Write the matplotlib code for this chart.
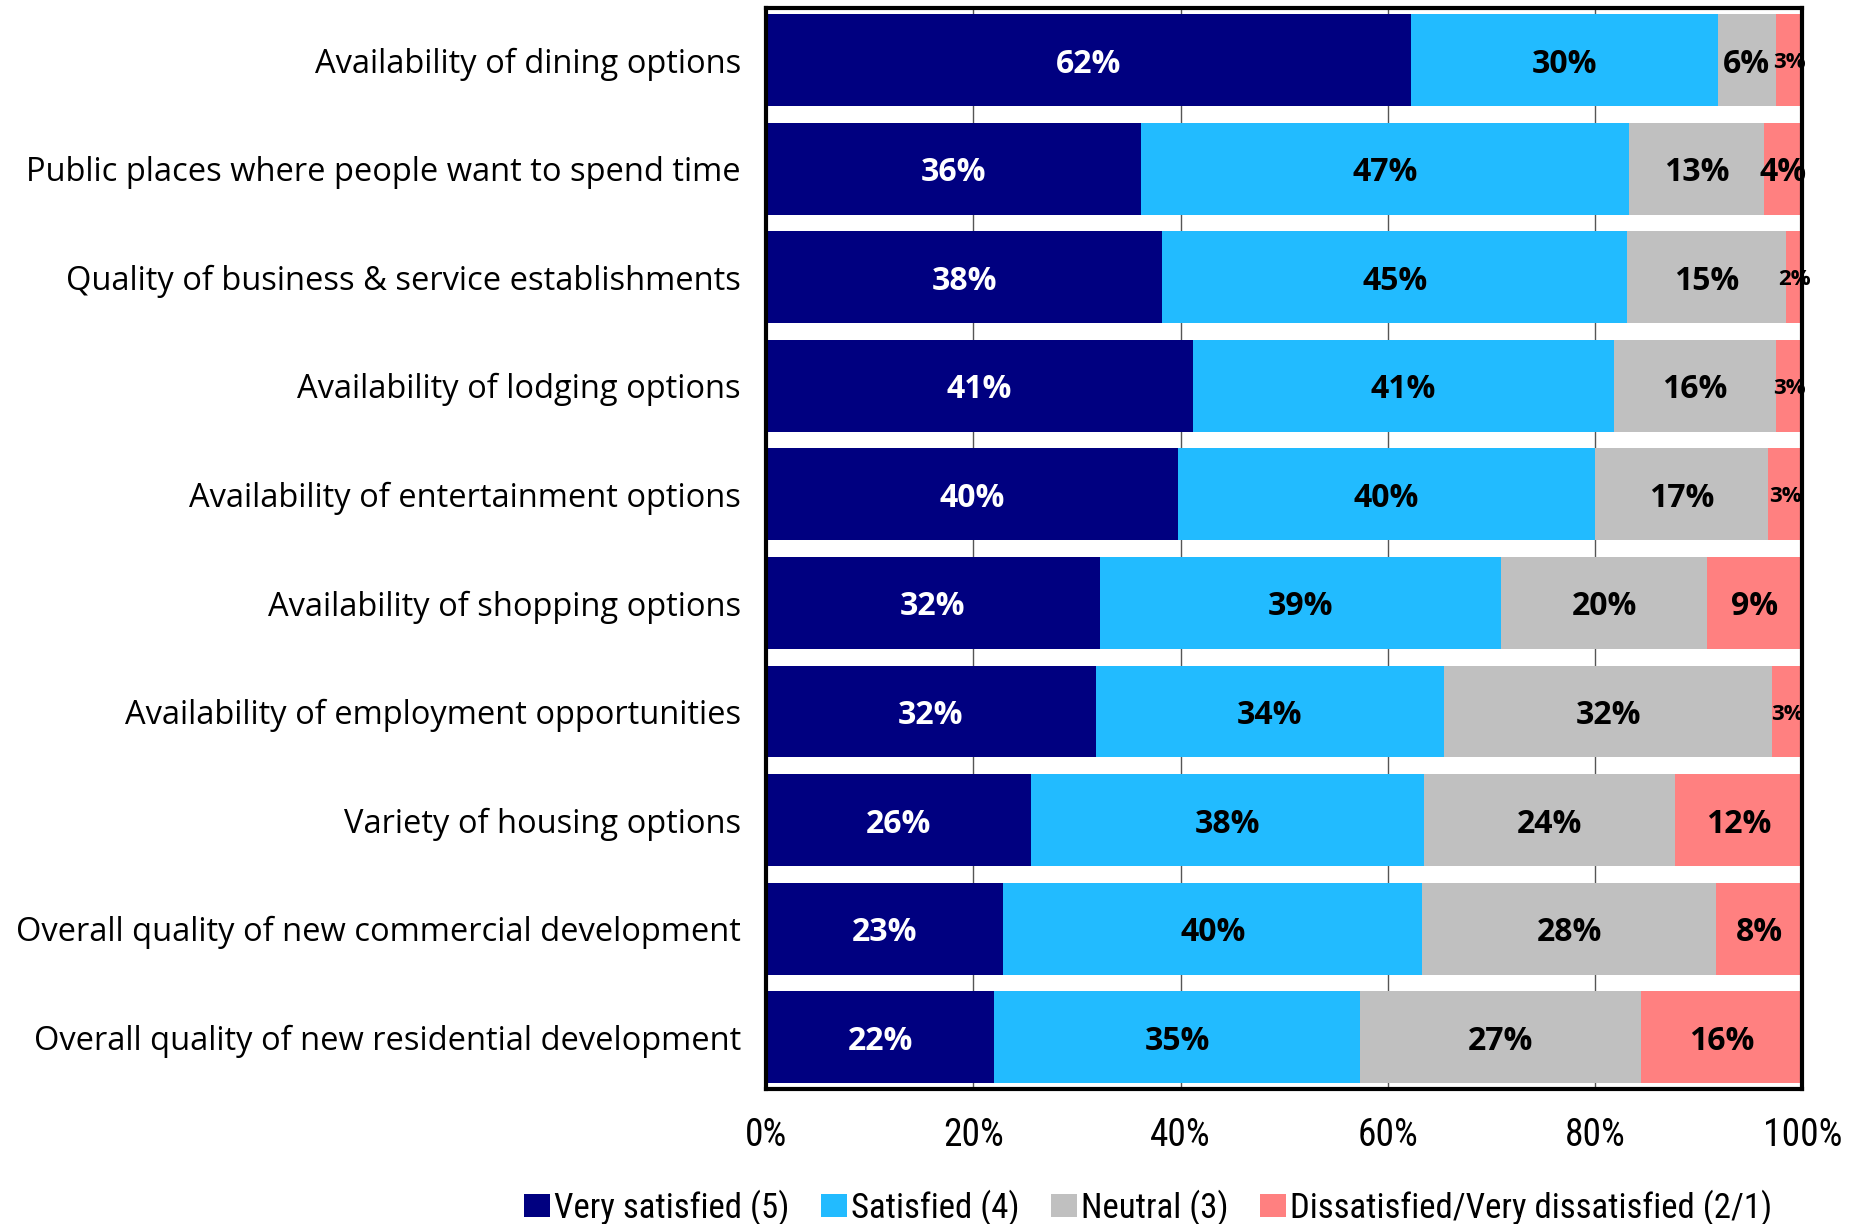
import matplotlib.pyplot as plt
import matplotlib.font_manager as fm
import numpy as np

# 폰트 선택: 없으면 다음 후보로
def pick_font(candidates):
    available = {f.name for f in fm.fontManager.ttflist}
    for name in candidates:
        if name in available:
            return name
    return 'DejaVu Sans'

LABEL_FONT = pick_font(['Open Sans', 'Noto Sans', 'DejaVu Sans'])
TICK_FONT = pick_font(['Liberation Sans Narrow', 'Roboto Condensed', 'Open Sans'])
plt.rcParams['font.family'] = LABEL_FONT

# === 데이터 (%) ===
items = [
    "Availability of dining options",
    "Public places where people want to spend time",
    "Quality of business & service establishments",
    "Availability of lodging options",
    "Availability of entertainment options",
    "Availability of shopping options",
    "Availability of employment opportunities",
    "Variety of housing options",
    "Overall quality of new commercial development",
    "Overall quality of new residential development",
]
very_satisfied = [62.2, 36.2, 38.2, 41.2, 39.7, 32.2, 31.8, 25.6, 22.9, 22.0]
satisfied      = [29.6, 47.1, 44.9, 40.6, 40.3, 38.7, 33.6, 37.9, 40.4, 35.3]
neutral        = [5.6, 13.0, 15.3, 15.6, 16.7, 19.9, 31.7, 24.2, 28.4, 27.1]
dissatisfied   = [2.6, 3.7, 1.6, 2.6, 3.3, 9.2, 2.9, 12.3, 8.3, 15.6]

series = [
    ("Very satisfied (5)", very_satisfied, '#000080', 'white'),
    ("Satisfied (4)", satisfied, '#22BBFF', 'black'),
    ("Neutral (3)", neutral, '#C0C0C0', 'black'),
    ("Dissatisfied/Very dissatisfied (2/1)", dissatisfied, '#FF8080', 'black'),
]

fig = plt.figure(figsize=(18.64, 12.24), dpi=100)
ax = fig.add_axes([0.411, 0.110, 0.556, 0.8835])

y = np.arange(len(items))
left = np.zeros(len(items))
for name, vals, color, txt_color in series:
    vals = np.array(vals)
    ax.barh(y, vals, left=left, height=0.845, color=color, label=name, zorder=2)
    for yi, (l, v) in enumerate(zip(left, vals)):
        fs = 16 if v < 3.5 else 23
        ax.text(l + v / 2, yi, f"{v:.0f}%", ha='center', va='center_baseline',
                color=txt_color, fontsize=fs, fontweight='bold', zorder=3)
    left += vals

ax.set_xlim(0, 100)
ax.set_ylim(len(items) - 0.52, -0.48)
ax.set_yticks(y)
ax.set_yticklabels(items, fontsize=23.5)
ax.set_xticks(np.arange(0, 101, 20))
ax.set_xticklabels([f"{t}%" for t in range(0, 101, 20)], fontsize=27, family=TICK_FONT)
ax.tick_params(axis='y', length=0, pad=18)
ax.tick_params(axis='x', length=0, pad=20)
ax.grid(axis='x', color='#555555', linewidth=1, zorder=0)
for sp in ax.spines.values():
    sp.set_linewidth(3)
    sp.set_color('black')

fig.legend(loc='lower center', bbox_to_anchor=(0.616, -0.027), ncol=4, frameon=False,
           prop={'family': TICK_FONT, 'size': 25}, handlelength=0.75, handleheight=0.65,
           handletextpad=0.12, columnspacing=0.9)

plt.savefig('out.png', dpi=100)
